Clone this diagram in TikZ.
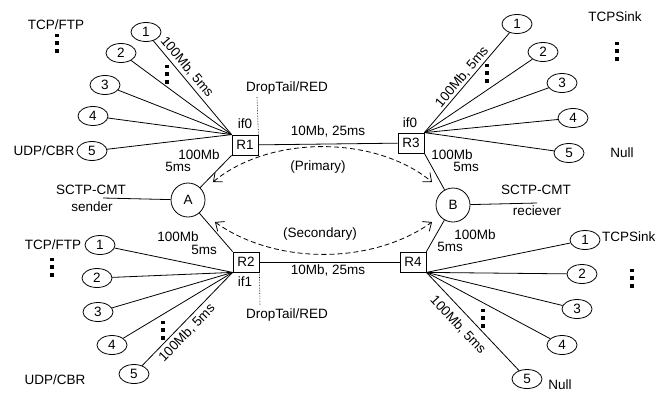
\documentclass[tikz,border=0pt]{standalone}
\usepackage{fontspec}
\setmainfont{Liberation Sans}
\usetikzlibrary{shapes.geometric,arrows.meta}
\begin{document}
\begin{tikzpicture}[x=1pt,y=-1pt,
  every node/.style={font=\fontsize{13.5}{15}\selectfont, inner sep=0pt},
  host/.style={draw, ellipse, line width=0.8pt, minimum width=30pt, minimum height=19pt},
  ep/.style={draw, circle, line width=0.8pt, minimum size=34pt},
  router/.style={draw, rectangle, line width=0.8pt, minimum width=26pt, minimum height=20pt},
  link/.style={line width=0.8pt},
  dotl/.style={line width=0.6pt, densely dotted},
  flow/.style={line width=0.8pt, dash pattern=on 5pt off 3pt,
    {Straight Barb[length=7pt,width=12pt]}-{Straight Barb[length=7pt,width=12pt]}},
  vdts/.pic={\fill (-1.6,-9.5) rectangle (1.6,-6); \fill (-1.6,-1.75) rectangle (1.6,1.75); \fill (-1.6,6) rectangle (1.6,9.5);}
]
\useasboundingbox (0,0) rectangle (656,392);

% routers
\node[router] (R1) at (245,145) {R1};
\node[router] (R3) at (411,143) {R3};
\node[router] (R2) at (246,262) {R2};
\node[router] (R4) at (413,262) {R4};

% endpoints
\node[ep] (A) at (188,200) {A};
\node[ep] (B) at (453,205) {B};

% R1 hosts
\node[host] (a1) at (146,32) {1};
\node[host] (a2) at (121,53) {2};
\node[host] (a3) at (105,85) {3};
\node[host] (a4) at (93,116) {4};
\node[host] (a5) at (92,151) {5};
% R3 hosts
\node[host] (b1) at (517,24) {1};
\node[host] (b2) at (543,52) {2};
\node[host] (b3) at (562,83) {3};
\node[host] (b4) at (573,118) {4};
\node[host] (b5) at (569,153) {5};
% R2 hosts
\node[host] (c1) at (100,245) {1};
\node[host] (c2) at (97,278) {2};
\node[host] (c3) at (98,312) {3};
\node[host] (c4) at (112,345) {4};
\node[host] (c5) at (134,374) {5};
% R4 hosts
\node[host] (d1) at (585,240) {1};
\node[host] (d2) at (582,274) {2};
\node[host] (d3) at (577,309) {3};
\node[host] (d4) at (562,345) {4};
\node[host] (d5) at (527,379) {5};

% fan links
\foreach \i in {1,...,5} {
  \draw[link] (R1.north west) -- (a\i);
  \draw[link] (R3.north east) -- (b\i);
  \draw[link] (R2.south west) -- (c\i);
  \draw[link] (R4.south east) -- (d\i);
}

% core links
\draw[link] (R1) -- (R3);
\draw[link] (R2) -- (R4);
\draw[link] (A) -- (R1.south west);
\draw[link] (A) -- (R2.north west);
\draw[link] (B) -- (R3.south east);
\draw[link] (B) -- (R4.north east);

\coordinate (sa) at (103,198);
\coordinate (rb) at (537,203);
\draw[link] (sa) -- (A);
\draw[link] (B) -- (rb);

% dotted queue markers
\coordinate (q1) at (257,97);
\coordinate (q2) at (260,305);
\draw[dotl] (R1.north east) -- (q1);
\draw[dotl] (R2.south east) -- (q2);

% flows
\coordinate (pA) at (213,182);
\coordinate (pB) at (432,182);
\coordinate (sA) at (215,222);
\coordinate (sB) at (432,222);
\draw[flow] (pA) .. controls (270,135) and (375,135) .. (pB);
\draw[flow] (sA) .. controls (275,265) and (372,265) .. (sB);
\node (lp) at (318,167) {(Primary)};
\node (ls) at (320,234) {(Secondary)};

% labels
\node (t1) at (56,25) {TCP/FTP};
\node (t2) at (44,151) {UDP/CBR};
\node (t3) at (615,17) {TCPSink};
\node (t4) at (622,153) {Null};
\node (t5) at (53,245) {TCP/FTP};
\node (t6) at (55,380) {UDP/CBR};
\node[anchor=west] (t7) at (602,237) {TCPSink};
\node (t8) at (560,385) {Null};

\node (d1l) at (287,88) {DropTail/RED};
\node (d2l) at (287,315) {DropTail/RED};
\node (if0a) at (245,124) {if0};
\node (if0b) at (410,123) {if0};
\node (if1) at (245,282) {if1};

\node (core1) at (328,131) {10Mb, 25ms};
\node (core2) at (328,270) {10Mb, 25ms};

\node (m1) at (199,155) {100Mb};
\node (m2) at (178,167) {5ms};
\node (m3) at (452,155) {100Mb};
\node (m4) at (466,167) {5ms};
\node (m5) at (178,237) {100Mb};
\node (m6) at (204,250) {5ms};
\node (m7) at (475,235) {100Mb};
\node (m8) at (450,247) {5ms};

\node[rotate=-50] (r1) at (187,67) {100Mb, 5ms};
\node[rotate=50] (r3) at (462,77) {100Mb, 5ms};
\node[rotate=46] (r2) at (187,333) {100Mb, 5ms};
\node[rotate=-47] (r4) at (458,325) {100Mb, 5ms};

\node (sc1) at (91,190) {SCTP-CMT};
\node (sc2) at (92,207) {sender};
\node (sc3) at (536,190) {SCTP-CMT};
\node (sc4) at (537,211) {reciever};

% ellipses of dots
\pic at (57,43) {vdts};
\pic at (167,74) {vdts};
\pic at (617,51) {vdts};
\pic at (487,73) {vdts};
\pic at (52,267) {vdts};
\pic at (163,330) {vdts};
\pic at (632,278) {vdts};
\pic at (483,318) {vdts};
\end{tikzpicture}
\end{document}
